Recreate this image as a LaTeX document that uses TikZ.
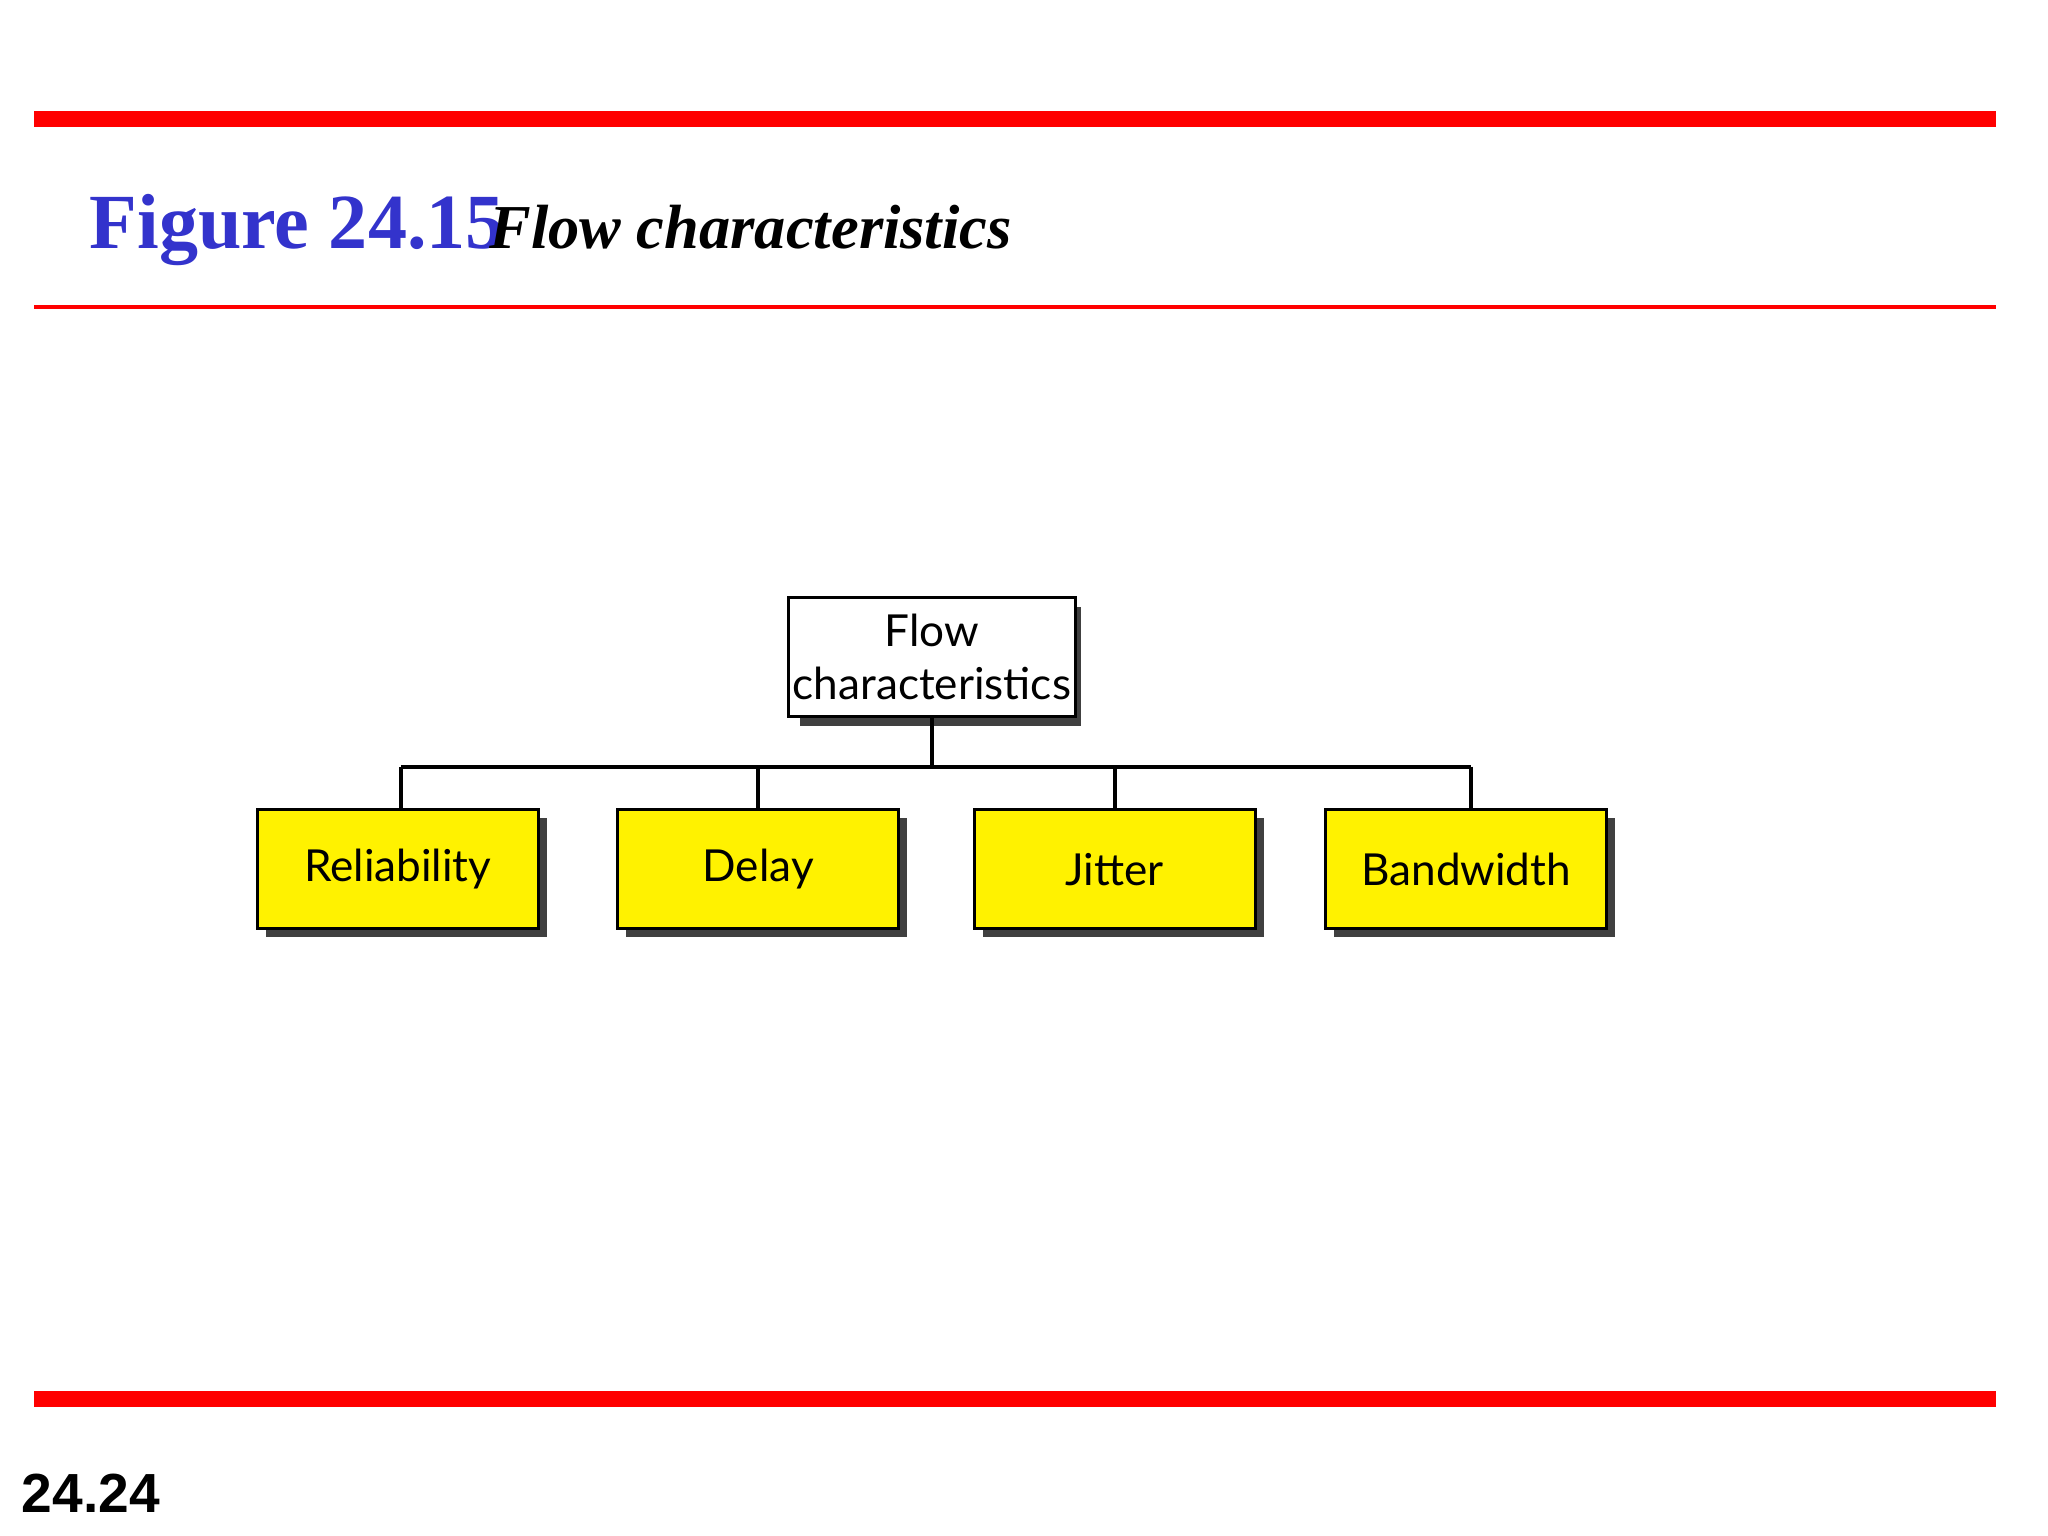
\documentclass[tikz,border=0pt]{standalone}
\usepackage{fontspec}
\setmainfont{Liberation Serif}
\newfontfamily\boxfont{Lato}
\newfontfamily\numfont{Liberation Sans}
\definecolor{titleblue}{RGB}{51,51,204}
\definecolor{slidered}{RGB}{255,0,0}
\begin{document}
\begin{tikzpicture}[x=0.01cm,y=-0.01cm,
  box/.style={draw=black,line width=0.7pt,minimum width=2.15cm,minimum height=0.91cm,align=center,font=\boxfont\fontsize{9.6}{11.5}\selectfont,inner sep=1pt},
  shadowbox/.style={fill=black!75,minimum width=2.15cm,minimum height=0.91cm,inner sep=0pt},
  conn/.style={line width=0.9pt}]
\useasboundingbox (0,0) rectangle (1568,1176);
\fill[slidered] (26,85) rectangle (1528,97);
\fill[slidered] (26,233.5) rectangle (1528,236.5);
\fill[slidered] (26,1065) rectangle (1528,1077);
\node[anchor=base west,inner sep=0pt,text=titleblue,font=\bfseries\fontsize{17}{20}\selectfont] (t1) at (68,190) {Figure 24.15};
\node[anchor=base west,inner sep=0pt,font=\bfseries\itshape\fontsize{13.6}{16}\selectfont] (t2) at (374,190) {Flow characteristics};
\node[anchor=base west,inner sep=0pt,font=\numfont\bfseries\fontsize{12}{14}\selectfont] (pg) at (16,1158) {24.24};
% shadows
\foreach \x/\y in {720/510,311/672,587/672,860/672,1129/672}
  \node[shadowbox] at (\x,\y) {};
\node[box,fill=white] (root) at (713.5,503) {Flow\\characteristics};
\node[box,fill=yellow] (r) at (304.5,665.5) {Reliability};
\node[box,fill=yellow] (d) at (580.5,665.5) {Delay};
\node[box,fill=yellow] (j) at (853.5,665.5) {Jitter};
\node[box,fill=yellow] (b) at (1122.5,665.5) {Bandwidth};
\coordinate (bus) at (713.5,587);
\draw[conn] (root.south) -- (bus);
\draw[conn] (307,587) -- (1126,587);
\draw[conn] (307,587) -- (307,620);
\draw[conn] (580.5,587) -- (d.north);
\draw[conn] (853.5,587) -- (j.north);
\draw[conn] (1126,587) -- (1126,620);
\end{tikzpicture}
\end{document}
